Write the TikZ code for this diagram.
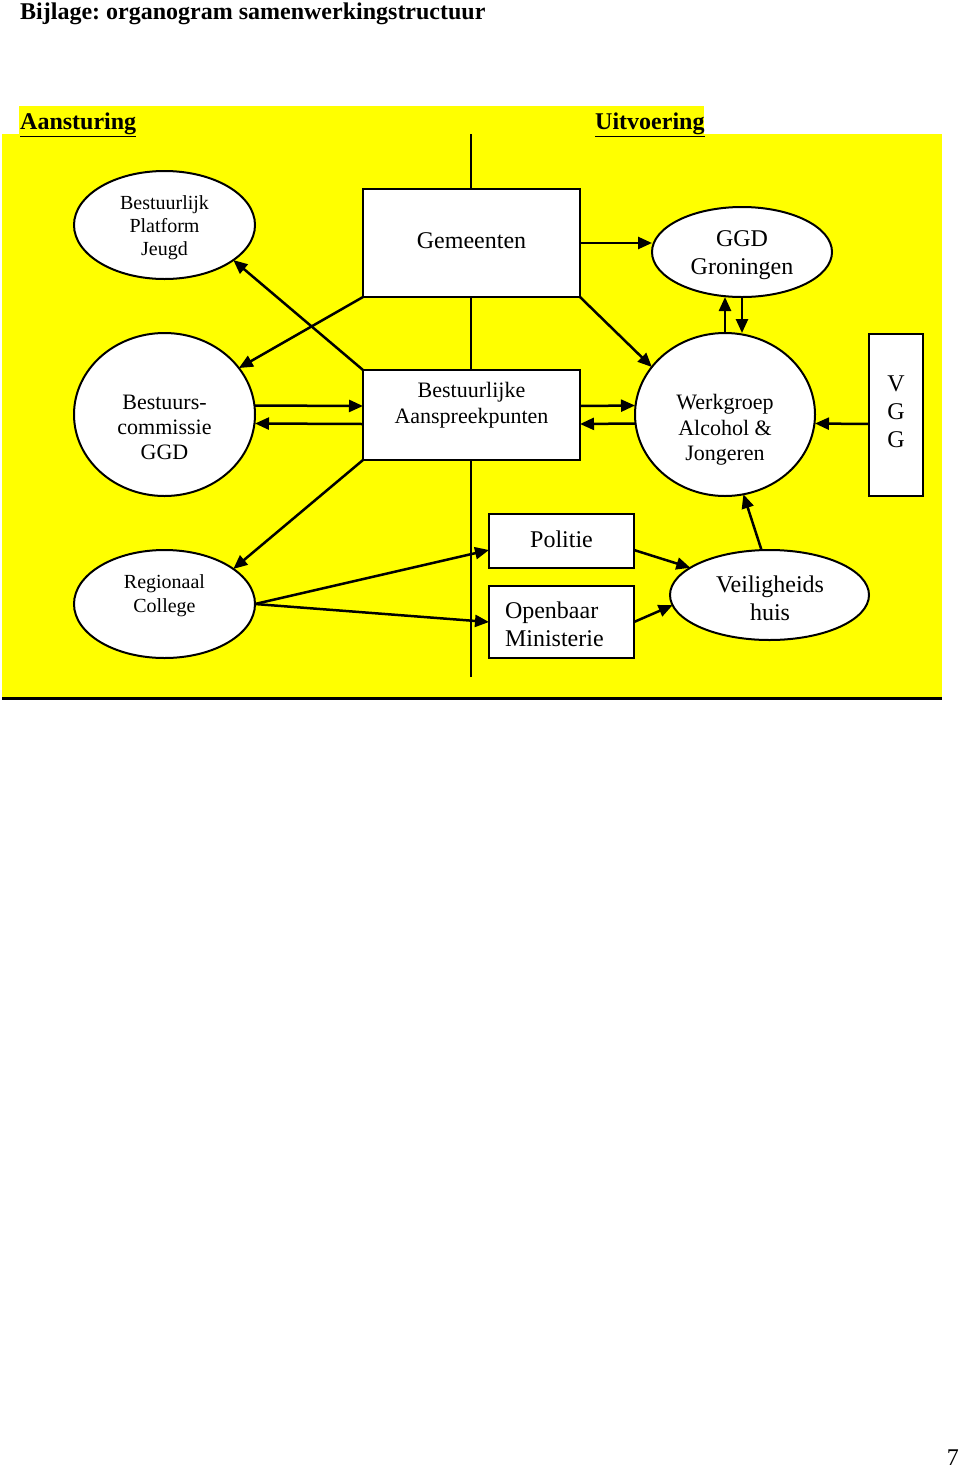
\documentclass[tikz,border=0pt]{standalone}
\usepackage{fontspec}
\setmainfont{Liberation Serif}
\usetikzlibrary{arrows.meta,shapes.geometric,calc}
\definecolor{hl}{RGB}{255,255,0}
\frenchspacing
\begin{document}
\begin{tikzpicture}[x=1pt,y=-1pt,
  shp/.style={draw,fill=white,line width=2pt,inner sep=0pt,outer sep=0pt},
  box/.style={shp,rectangle},
  ell/.style={shp,ellipse},
  txt/.style={inner sep=0pt,outer sep=0pt,align=center},
  arr/.style={line width=2.5pt,-{Triangle[length=14pt,width=12pt]}},
  ln/.style={line width=2pt}]
\useasboundingbox (0,0) rectangle (960,1468);
% title
\node[anchor=base west,inner sep=0pt,font=\fontsize{24}{28}\selectfont\bfseries] (title) at (20,19) {Bijlage: organogram samenwerkingstructuur};
% yellow background
\fill[hl] (19,106) rectangle (704,135);
\fill[hl] (2,134) rectangle (942,697);
\draw[line width=3pt] (2,698) -- (942,698);
\node[anchor=base west,inner sep=0pt,font=\fontsize{24}{28}\selectfont\bfseries] (aan) at (20,129) {\underline{Aansturing}};
\node[anchor=base west,inner sep=0pt,font=\fontsize{24}{28}\selectfont\bfseries] (uit) at (595,129) {\underline{Uitvoering}};
% divider
\coordinate (dtop) at (471,134);
\coordinate (dbot) at (471,677);
\draw[ln] (dtop) -- (dbot);
% shapes
\node[ell,minimum width=181pt,minimum height=108pt] (bpj) at (164.5,225) {};
\node[box,minimum width=217pt,minimum height=108pt] (gem) at (471.5,243) {};
\node[ell,minimum width=180pt,minimum height=90pt] (ggd) at (742,252) {};
\node[ell,minimum width=181pt,minimum height=163pt] (bc) at (164.5,414.5) {};
\node[box,minimum width=217pt,minimum height=90pt] (bap) at (471.5,415) {};
\node[ell,minimum width=180pt,minimum height=163pt] (wg) at (725,414.5) {};
\node[box,minimum width=54pt,minimum height=162pt] (vgg) at (896,415) {};
\node[ell,minimum width=181pt,minimum height=108pt] (rc) at (164.5,604) {};
\node[box,minimum width=145pt,minimum height=54pt] (pol) at (561.5,541) {};
\node[box,minimum width=145pt,minimum height=72pt] (om) at (561.5,622) {};
\node[ell,minimum width=199pt,minimum height=90pt] (vh) at (769.5,595) {};
% texts
\node[txt,font=\fontsize{20}{23}\selectfont] (bpjt) at (164.5,228) {Bestuurlijk\\Platform\\Jeugd};
\node[txt,font=\fontsize{24}{28}\selectfont] (gemt) at (471.5,241) {Gemeenten};
\node[txt,font=\fontsize{24}{28}\selectfont] (ggdt) at (742,255) {GGD\\Groningen};
\node[txt,font=\fontsize{22}{25}\selectfont] (bct) at (164.5,427) {Bestuurs-\\commissie\\GGD};
\node[txt,font=\fontsize{22}{26}\selectfont] (bapt) at (471.5,405) {Bestuurlijke\\Aanspreekpunten};
\node[txt,font=\fontsize{22}{25.5}\selectfont] (wgt) at (725,430) {Werkgroep\\Alcohol \&\\Jongeren};
\node[txt,font=\fontsize{24}{28}\selectfont] (vggt) at (896,412) {V\\G\\G};
\node[txt,font=\fontsize{20}{24}\selectfont] (rct) at (164.5,596) {Regionaal\\College};
\node[txt,font=\fontsize{24}{28}\selectfont] (polt) at (561.5,539) {Politie};
\node[txt,align=left,anchor=west,font=\fontsize{24}{28}\selectfont] (omt) at (505,624) {Openbaar\\Ministerie};
\node[txt,font=\fontsize{24}{28}\selectfont] (vht) at (770,598) {Veiligheids\\huis};
% connectors
\draw[arr] (gem.east) -- (ggd.west |- gem.east);
\draw[arr] (gem.south east) -- (wg.147);
\draw[arr] (gem.south west) -- (bc.32);
\draw[arr] (bap.north west) -- (bpj.-27);
\draw[arr] (bap.south west) -- (rc.27);
\draw[arr] ([yshift=9pt]bc.east) -- ([yshift=9pt]bap.west);
\draw[arr] ([yshift=-9pt]bap.west) -- ([yshift=-9pt]bc.east);
\draw[arr] ([yshift=9pt]bap.east) -- ([yshift=9pt]wg.west);
\draw[arr] ([yshift=-9pt]wg.west) -- ([yshift=-9pt]bap.east);
\draw[arr] ([yshift=-9pt]vgg.west) -- ([yshift=-9pt]wg.east);
\draw[arr] (wg.north) -- (wg.north |- ggd.south);
\draw[arr] (ggd.south) -- (ggd.south |- wg.north);
\draw[arr] (rc.east) -- ([yshift=-9pt]pol.west);
\draw[arr] (rc.east) -- (om.west);
\draw[arr] ([yshift=-9pt]pol.east) -- (vh.161);
\draw[arr] (om.east) -- (vh.186);
\draw[arr] ([xshift=-8pt]vh.north) -- (wg.-77);
% page number
\node[anchor=base east,inner sep=0pt,font=\fontsize{24}{28}\selectfont] (pg) at (959,1465) {7};
\end{tikzpicture}
\end{document}
